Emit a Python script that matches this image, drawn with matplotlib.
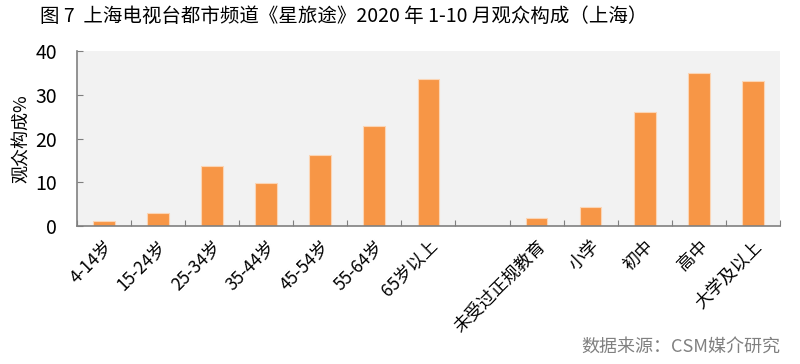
import numpy as np
import matplotlib.pyplot as plt

plt.rcParams['font.family'] = ['Noto Sans CJK SC', 'DejaVu Sans']

categories = ['4-14岁', '15-24岁', '25-34岁', '35-44岁', '45-54岁', '55-64岁', '65岁以上',
              '', '未受过正规教育', '小学', '初中', '高中', '大学及以上']
values = [1.1, 3.0, 13.8, 9.9, 16.2, 22.9, 33.5, np.nan, 1.9, 4.3, 26.1, 35.0, 33.1]

fig = plt.figure(figsize=(8, 3.64), dpi=100)
ax = fig.add_axes([0.096, 0.379, 0.879, 0.481])
ax.set_facecolor('#F2F2F2')

x = np.arange(len(categories))
ax.bar(x, values, width=0.4, color='#F79646', edgecolor='#FBD5B5', linewidth=0.8, zorder=2)

ax.set_xlim(-0.5, len(categories) - 0.5)
ax.set_ylim(0, 40)
ax.set_yticks([0, 10, 20, 30, 40])
ax.set_xticks(np.arange(-0.5, len(categories)), minor=False)
ax.set_xticklabels([])
ax.set_xticks(x, minor=True)
ax.set_xticklabels(categories, minor=True, rotation=45, ha='right',
                   rotation_mode='anchor', fontsize=12.5)
ax.tick_params(axis='x', which='minor', length=0, pad=8)
ax.tick_params(axis='x', which='major', direction='in', length=4, color='#7F7F7F')
ax.tick_params(axis='y', direction='in', length=4, color='#7F7F7F', labelsize=14, pad=14)

for s in ['top', 'right']:
    ax.spines[s].set_visible(False)
for s in ['left', 'bottom']:
    ax.spines[s].set_color('#808080')
    ax.spines[s].set_linewidth(1.2)

ax.set_ylabel('观众构成%', fontsize=13, labelpad=3)

fig.text(0.05, 0.955, '图 7  上海电视台都市频道《星旅途》2020 年 1-10 月观众构成（上海）',
         fontsize=14, va='center', ha='left')
fig.text(0.975, 0.045, '数据来源：CSM媒介研究', fontsize=13, color='#808080',
         ha='right', va='center')

fig.savefig('out.png', dpi=100)
